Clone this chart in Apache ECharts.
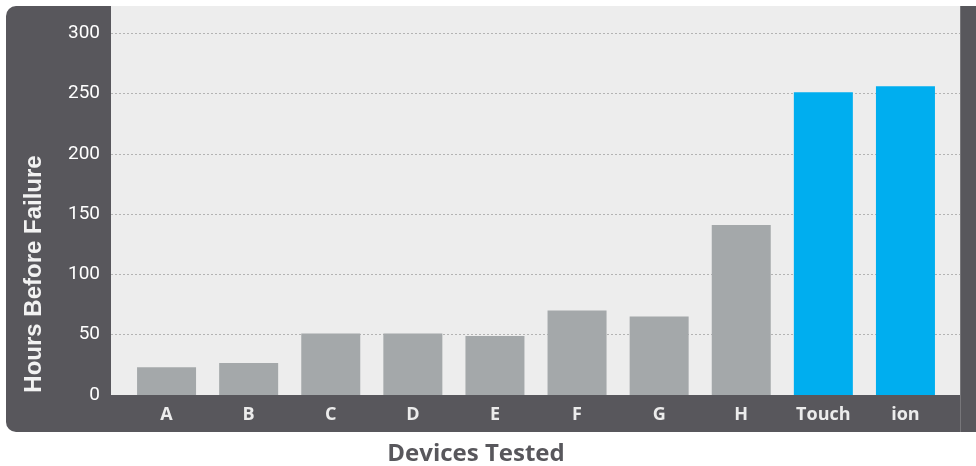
<!DOCTYPE html>
<html>
<head>
<meta charset="utf-8">
<script src="https://cdn.jsdelivr.net/npm/echarts@6/dist/echarts.min.js"></script>
<style>html,body{margin:0;padding:0;background:#fff}#chart{width:976px;height:466px}</style>
</head>
<body>
<div id="chart"></div>
<script>
const categories = ['A', 'B', 'C', 'D', 'E', 'F', 'G', 'H', 'Touch', 'ion'];
const hoursBeforeFailure = [23, 26.5, 51, 51, 49, 70, 65, 141, 251, 256];
const highlighted = ['Touch', 'ion'];
const yTicks = [0, 50, 100, 150, 200, 250, 300];
const yAxisTitle = 'Hours Before Failure';
const xAxisTitle = 'Devices Tested';

const DARK = '#58575c';
const LIGHT = '#ededed';
const GRAY_BAR = '#a4a8aa';
const BLUE_BAR = '#00aeef';
const yMin = yTicks[0], yMax = yTicks[yTicks.length - 1], yStep = yTicks[1] - yTicks[0];

const chart = echarts.init(document.getElementById('chart'), null, {renderer: 'canvas'});
chart.setOption({
  backgroundColor: '#ffffff',
  animation: false,
  graphic: [
    {type: 'rect', z: -20, shape: {x: 6, y: 6, width: 970, height: 426, r: [10, 0, 0, 10]}, style: {fill: DARK}},
    {type: 'rect', z: -19, shape: {x: 111, y: 6, width: 849, height: 389}, style: {fill: LIGHT}},
    {type: 'rect', z: -18, shape: {x: 960, y: 6, width: 1, height: 426}, style: {fill: '#77767a'}},
    {type: 'text', z: 10, x: 34, y: 274, rotation: Math.PI / 2,
      style: {text: yAxisTitle, fill: '#f2f2f2', font: 'bold 24px "Liberation Sans", Arial, sans-serif', textAlign: 'center', textVerticalAlign: 'middle'}},
    {type: 'text', z: 10, x: 476, y: 454,
      style: {text: xAxisTitle, fill: DARK, font: 'bold 24px "Open Sans", sans-serif', textAlign: 'center', textVerticalAlign: 'middle'}}
  ],
  grid: [
    {left: 111, right: 16, top: 33.2, bottom: 71},
    {left: 125.5, right: 29.5, top: 33.2, bottom: 71}
  ],
  xAxis: [
    {gridIndex: 0, type: 'category', data: categories, show: false},
    {gridIndex: 1, type: 'category', data: categories,
      axisLine: {show: false}, axisTick: {show: false},
      axisLabel: {color: '#ececec', fontFamily: '"Open Sans", sans-serif', fontWeight: 'bold', fontSize: 18, margin: 11}}
  ],
  yAxis: [
    {gridIndex: 0, type: 'value', min: yMin, max: yMax, interval: yStep,
      axisLine: {show: false}, axisTick: {show: false},
      axisLabel: {color: '#ffffff', fontFamily: 'Roboto, sans-serif', fontSize: 19, margin: 11},
      splitLine: {show: true, showMinLine: false, lineStyle: {color: '#b3b3b3', type: [2, 2], width: 1}}},
    {gridIndex: 1, type: 'value', min: yMin, max: yMax, interval: yStep, show: false, splitLine: {show: false}}
  ],
  series: [{
    type: 'bar',
    xAxisIndex: 1, yAxisIndex: 1,
    data: hoursBeforeFailure,
    barWidth: 59,
    itemStyle: {color: p => highlighted.includes(p.name) ? BLUE_BAR : GRAY_BAR}
  }]
});
</script>
</body>
</html>
